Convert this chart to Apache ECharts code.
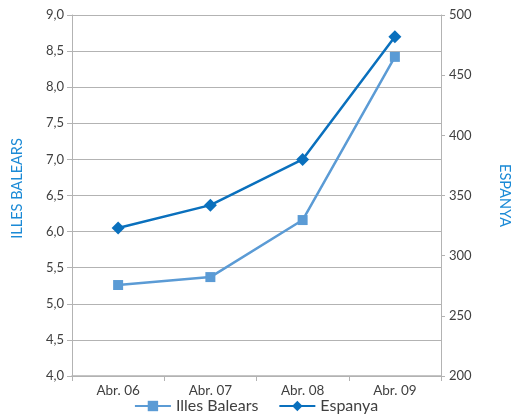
<!DOCTYPE html>
<html>
<head>
<meta charset="utf-8">
<script src="https://cdn.jsdelivr.net/npm/echarts@6/dist/echarts.min.js"></script>
<style>
  html, body { margin: 0; padding: 0; background: #fff; }
  #main { width: 512px; height: 419px; }
</style>
</head>
<body>
<div id="main"></div>
<script>
// dades
const categories = ['Abr. 06', 'Abr. 07', 'Abr. 08', 'Abr. 09']
const illesBalears = [5.26, 5.37, 6.16, 8.42] // eix esquerre
const espanya = [323, 342, 380, 482] // eix dret

const gridColor = '#b3b3b3'
const labelColor = '#404040'
const nameColor = '#1b8ad6'

const myChart = echarts.init(document.getElementById('main'))
myChart.setOption({
  animation: false,
  textStyle: { fontFamily: 'Lato' },
  grid: { left: 72, right: 71, top: 15, bottom: 43, outerBoundsMode: 'none', containLabel: false },
  legend: {
    bottom: 0,
    left: 'center',
    itemWidth: 36,
    itemHeight: 13,
    itemGap: 20,
    textStyle: { fontSize: 16, color: labelColor },
    data: ['Illes Balears', 'Espanya']
  },
  xAxis: {
    type: 'category',
    data: categories,
    axisLine: { lineStyle: { color: gridColor, width: 1.5 } },
    axisTick: { show: true, length: 5, lineStyle: { color: gridColor } },
    axisLabel: { color: labelColor, fontSize: 13.5, margin: 8 }
  },
  yAxis: [{
    type: 'value',
    min: 4,
    max: 9,
    interval: 0.5,
    name: 'ILLES BALEARS',
    nameLocation: 'middle',
    nameGap: 47,
    nameTextStyle: { color: nameColor, fontSize: 14.5, padding: [0, 0, 0, 14] },
    axisLine: { show: true, lineStyle: { color: gridColor } },
    axisTick: { show: true, length: 5, lineStyle: { color: gridColor } },
    axisLabel: {
      color: labelColor,
      fontSize: 13,
      margin: 8,
      formatter: v => v.toFixed(1).replace('.', ',')
    },
    splitLine: { lineStyle: { color: gridColor } }
  }, {
    type: 'value',
    min: 200,
    max: 500,
    interval: 50,
    position: 'right',
    name: 'ESPANYA',
    nameLocation: 'middle',
    nameRotate: -90,
    nameGap: 56,
    nameTextStyle: { color: nameColor, fontSize: 14.5 },
    axisLine: { show: true, lineStyle: { color: gridColor } },
    axisTick: { show: true, length: 4, lineStyle: { color: gridColor } },
    axisLabel: { color: labelColor, fontSize: 13, margin: 8 },
    splitLine: { show: false }
  }],
  series: [{
    name: 'Illes Balears',
    type: 'line',
    yAxisIndex: 0,
    data: illesBalears,
    symbol: 'rect',
    symbolSize: 10,
    color: '#5b9bd5',
    lineStyle: { width: 2.5, color: '#5b9bd5' },
    itemStyle: { color: '#5b9bd5' }
  }, {
    name: 'Espanya',
    type: 'line',
    yAxisIndex: 1,
    data: espanya,
    symbol: 'diamond',
    symbolSize: 13,
    color: '#0a70bd',
    lineStyle: { width: 2.5, color: '#0a70bd' },
    itemStyle: { color: '#0a70bd' }
  }]
})
</script>
</body>
</html>
